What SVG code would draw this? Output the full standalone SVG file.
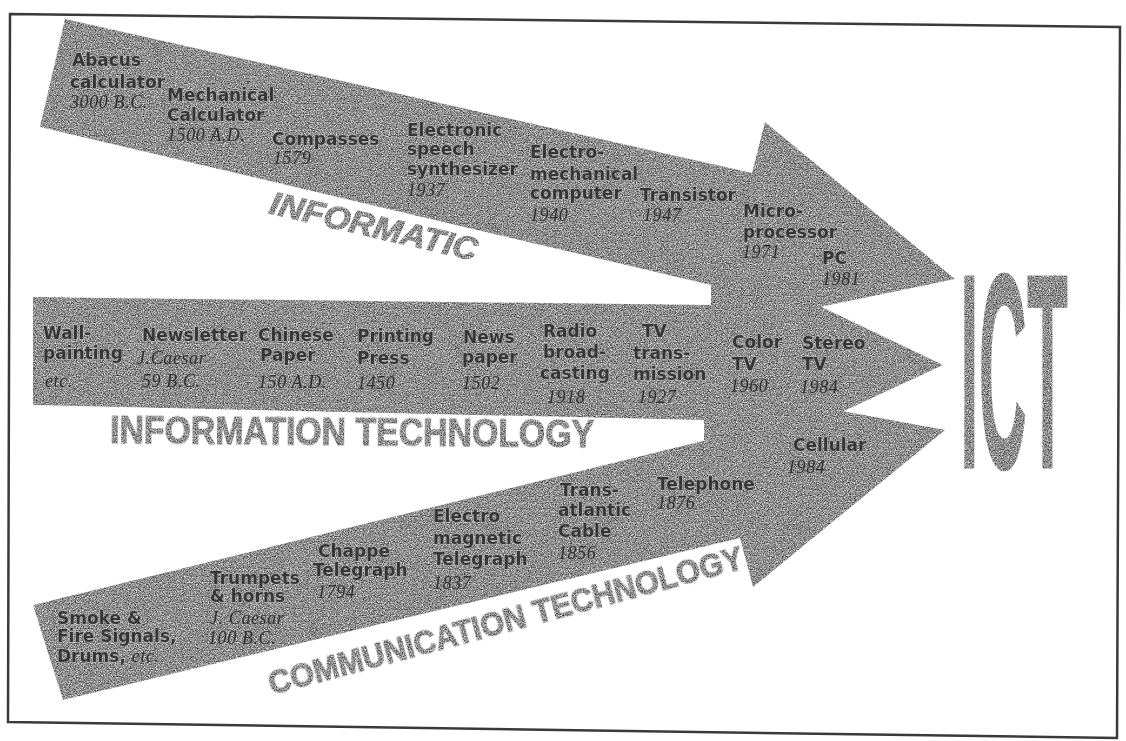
<svg xmlns="http://www.w3.org/2000/svg" width="1126" height="741" viewBox="0 0 1126 741">
<defs>
<filter id="grain" filterUnits="userSpaceOnUse" x="0" y="0" width="1126" height="741" color-interpolation-filters="sRGB">
<feTurbulence type="fractalNoise" baseFrequency="0.85" numOctaves="2" seed="7" result="noise"/>
<feColorMatrix in="noise" type="matrix" values="1.2 0 0 0 -0.04  1.2 0 0 0 -0.04  1.2 0 0 0 -0.04  0 0 0 0 1" result="gray"/>
<feComposite in="gray" in2="SourceGraphic" operator="in"/>
</filter>
<style>
.arrow { fill: #8c8c8c; }
.l { font-family: "DejaVu Sans", "Liberation Sans", sans-serif; font-weight: bold; font-size: 17px; fill: #363636; stroke: #b8b8b8; stroke-width: 1.1px; paint-order: stroke; }
.y { font-family: "Liberation Serif", serif; font-style: italic; font-size: 18px; letter-spacing: 0.6px; fill: #2e2e2e; stroke: #9a9a9a; stroke-width: 0.6px; paint-order: stroke; }
.t { font-family: "Liberation Sans", "DejaVu Sans", sans-serif; font-weight: bold; fill: #7a7a7a; stroke: #7a7a7a; stroke-width: 1.2px; }
.frame { fill: none; stroke: #3a3a3a; stroke-width: 2.5; }
</style>
</defs>
<rect width="1126" height="741" fill="#ffffff"/>
<polygon class="frame" points="10,14 1120,27 1117,738 8,722"/>

<g id="connectors" filter="url(#grain)">
<polygon id="arrow-informatic" class="arrow" points="65,19 752,173 765,122 955,279 714,329 724,288 40,127"/>
<polygon id="arrow-it" class="arrow" points="33,297 711,305 711,254 943,365 704,476 704,420 33,405"/>
<polygon id="arrow-ct" class="arrow" points="33,605 715,438 701,385 945,430 753,587 740,538 63,700"/>
</g>

<g id="titles" filter="url(#grain)">
<text id="title-informatic" class="t" font-size="32" font-style="italic" transform="translate(268,213) rotate(13)" textLength="212" lengthAdjust="spacingAndGlyphs">INFORMATIC</text>
<text id="title-it" class="t" font-size="38" transform="translate(110,443) rotate(0.5)" textLength="484" lengthAdjust="spacingAndGlyphs">INFORMATION TECHNOLOGY</text>
<text id="title-ct" class="t" font-size="33" transform="translate(272,695) rotate(-15)" textLength="490" lengthAdjust="spacingAndGlyphs">COMMUNICATION TECHNOLOGY</text>
</g>

<g id="ict" filter="url(#grain)">
<text class="t" x="0" y="0" font-size="279" stroke-width="0" transform="translate(960,468) scale(0.24,1)">ICT</text>
</g>

<g id="abacus"><text class="l" x="72" y="66">Abacus</text><text class="l" x="70" y="88">calculator</text><text class="y" x="70" y="108">3000 B.C.</text></g>
<g id="mechanical-calculator"><text class="l" x="167" y="101">Mechanical</text><text class="l" x="167" y="121">Calculator</text><text class="y" x="167" y="141">1500 A.D.</text></g>
<g id="compasses"><text class="l" x="272" y="145">Compasses</text><text class="y" x="273" y="164">1579</text></g>
<g id="speech-synthesizer"><text class="l" x="407" y="136">Electronic</text><text class="l" x="407" y="155">speech</text><text class="l" x="407" y="175">synthesizer</text><text class="y" x="407" y="196">1937</text></g>
<g id="electromechanical-computer"><text class="l" x="530" y="158">Electro-</text><text class="l" x="530" y="180">mechanical</text><text class="l" x="530" y="199">computer</text><text class="y" x="530" y="221">1940</text></g>
<g id="transistor"><text class="l" x="640" y="201">Transistor</text><text class="y" x="643" y="221">1947</text></g>
<g id="microprocessor"><text class="l" x="743" y="217">Micro-</text><text class="l" x="743" y="238">processor</text><text class="y" x="742" y="258">1971</text></g>
<g id="pc"><text class="l" x="822" y="264">PC</text><text class="y" x="822" y="285">1981</text></g>

<g id="wall-painting"><text class="l" x="43" y="339">Wall-</text><text class="l" x="43" y="359">painting</text><text class="y" x="45" y="387">etc.</text></g>
<g id="newsletter"><text class="l" x="142" y="341">Newsletter</text><text class="y" x="137" y="364">J.Caesar</text><text class="y" x="142" y="387">59 B.C.</text></g>
<g id="chinese-paper"><text class="l" x="258" y="341">Chinese</text><text class="l" x="260" y="361">Paper</text><text class="y" x="258" y="388">150 A.D.</text></g>
<g id="printing-press"><text class="l" x="357" y="342">Printing</text><text class="l" x="357" y="364">Press</text><text class="y" x="357" y="389">1450</text></g>
<g id="newspaper"><text class="l" x="463" y="343">News</text><text class="l" x="462" y="363">paper</text><text class="y" x="462" y="389">1502</text></g>
<g id="radio"><text class="l" x="543" y="337">Radio</text><text class="l" x="543" y="358">broad-</text><text class="l" x="540" y="379">casting</text><text class="y" x="547" y="403">1918</text></g>
<g id="tv-transmission"><text class="l" x="642" y="337">TV</text><text class="l" x="633" y="359">trans-</text><text class="l" x="633" y="380">mission</text><text class="y" x="638" y="403">1927</text></g>
<g id="color-tv"><text class="l" x="732" y="348">Color</text><text class="l" x="732" y="370">TV</text><text class="y" x="730" y="392">1960</text></g>
<g id="stereo-tv"><text class="l" x="802" y="349">Stereo</text><text class="l" x="802" y="370">TV</text><text class="y" x="800" y="393">1984</text></g>

<g id="smoke-signals"><text class="l" x="57" y="624">Smoke &amp;</text><text class="l" x="57" y="642">Fire Signals,</text><text x="57" y="662"><tspan class="l">Drums, </tspan><tspan class="y">etc.</tspan></text></g>
<g id="trumpets"><text class="l" x="210" y="584">Trumpets</text><text class="l" x="210" y="602">&amp; horns</text><text class="y" x="210" y="624">J. Caesar</text><text class="y" x="208" y="644">100 B.C.</text></g>
<g id="chappe-telegraph"><text class="l" x="318" y="557">Chappe</text><text class="l" x="313" y="576">Telegraph</text><text class="y" x="317" y="598">1794</text></g>
<g id="electromagnetic-telegraph"><text class="l" x="433" y="522">Electro</text><text class="l" x="433" y="544">magnetic</text><text class="l" x="433" y="565">Telegraph</text><text class="y" x="433" y="589">1837</text></g>
<g id="transatlantic-cable"><text class="l" x="560" y="496">Trans-</text><text class="l" x="558" y="516">atlantic</text><text class="l" x="558" y="537">Cable</text><text class="y" x="558" y="559">1856</text></g>
<g id="telephone"><text class="l" x="657" y="490">Telephone</text><text class="y" x="657" y="509">1876</text></g>
<g id="cellular"><text class="l" x="793" y="451">Cellular</text><text class="y" x="787" y="473">1984</text></g>
</svg>
